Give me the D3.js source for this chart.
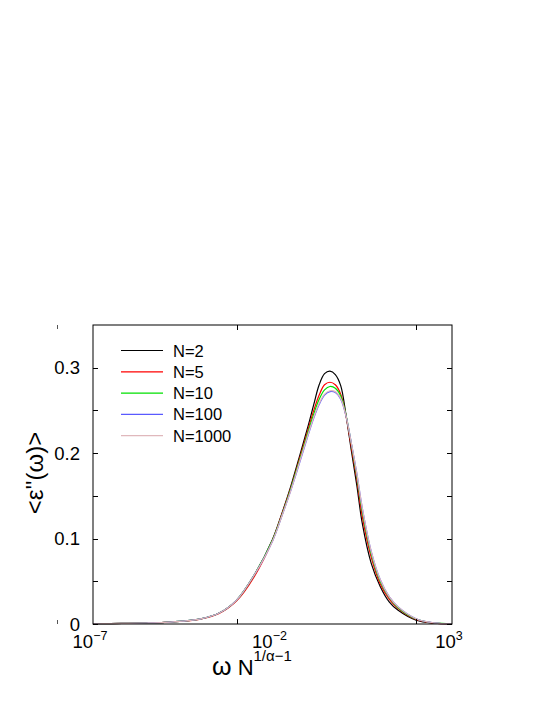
<!DOCTYPE html>
<html>
<head>
<meta charset="utf-8">
<script src="https://cdn.jsdelivr.net/npm/d3@7"></script>
<style>
html,body{margin:0;padding:0;background:#fff;}
svg{display:block;}
text{font-family:"Liberation Sans",Arial,Helvetica,sans-serif;fill:#000;}
</style>
</head>
<body>
<svg id="chart" width="545" height="705"></svg>
<script>
// ---- data ----
const logOmega = [-7,-6.5,-6,-5.5,-5,-4.5,-4,-3.5,-3,-2.5,-2,-1.75,-1.5,-1.25,-1,-0.85,-0.7,-0.55,-0.4,-0.25,-0.1,0.05,0.2,0.35,0.5,0.75,1,1.25,1.5,2,2.5,3];
const seriesNames = ["N=2","N=5","N=10","N=100","N=1000"];
const n2    = [0.0003,0.0005,0.0008,0.0012,0.0019,0.0033,0.0060,0.0125,0.028,0.058,0.099,0.128,0.160,0.196,0.233,0.257,0.280,0.293,0.296,0.292,0.279,0.244,0.202,0.162,0.118,0.071,0.044,0.026,0.016,0.0045,0.0009,0.0002];
const n5    = [0.0003,0.0005,0.0008,0.0012,0.0019,0.0032,0.0058,0.0120,0.027,0.056,0.098,0.127,0.158,0.193,0.229,0.250,0.268,0.280,0.283,0.280,0.269,0.243,0.206,0.169,0.126,0.078,0.047,0.029,0.018,0.0052,0.0011,0.0002];
const n10   = [0.0003,0.0005,0.0008,0.0012,0.0019,0.0033,0.0060,0.0125,0.028,0.058,0.098,0.126,0.157,0.191,0.226,0.246,0.263,0.274,0.278,0.276,0.267,0.244,0.210,0.173,0.132,0.082,0.050,0.031,0.019,0.0058,0.0013,0.0003];
const n100  = [0.0003,0.0005,0.0008,0.0012,0.0019,0.0033,0.0060,0.0125,0.028,0.058,0.097,0.125,0.155,0.188,0.222,0.241,0.257,0.268,0.272,0.271,0.263,0.243,0.211,0.176,0.136,0.085,0.052,0.032,0.020,0.0062,0.0014,0.0003];
const n1000 = [0.0003,0.0005,0.0008,0.0012,0.0019,0.0033,0.0060,0.0125,0.028,0.058,0.097,0.125,0.155,0.189,0.223,0.242,0.258,0.269,0.273,0.272,0.264,0.243,0.211,0.176,0.136,0.085,0.052,0.032,0.020,0.0062,0.0014,0.0003];
const seriesColors = ["#000000","#ff0000","#00e000","#5a5aff","#e0b8bc"];
const xTickLabelExps = [-7,-2,3];
const xTickMarkExps = [-3,2];
const yMajorTicks = [0,0.1,0.2,0.3];
const yMinorTicks = [0.05,0.15,0.25];

const allSeries = [n2,n5,n10,n100,n1000];

// ---- layout ----
const svg = d3.select("#chart");
const L = 93, R = 452, T = 325, B = 624;
const x = d3.scaleLog().domain([1e-7,1e3]).range([L,R]);
const y = d3.scaleLinear().domain([0,0.35]).range([B,T]);

// curves
const line = d3.line()
  .x(d => x(Math.pow(10,d[0])))
  .y(d => y(d[1]))
  .curve(d3.curveCatmullRom.alpha(0.5));

allSeries.forEach((s,i) => {
  svg.append("path")
    .datum(logOmega.map((lx,j)=>[lx,s[j]]))
    .attr("fill","none")
    .attr("stroke",seriesColors[i])
    .attr("stroke-width",1.2)
    .attr("d",line);
});

// frame
svg.append("rect").attr("x",L).attr("y",T).attr("width",R-L).attr("height",B-T)
  .attr("fill","none").attr("stroke","#000").attr("stroke-width",1);

const tl = 5;
const ticks = svg.append("g").attr("stroke","#000").attr("stroke-width",1);
yMajorTicks.concat(yMinorTicks).forEach(v => {
  const yy = Math.round(y(v))+0.5;
  ticks.append("line").attr("x1",L).attr("x2",L+tl).attr("y1",yy).attr("y2",yy);
  ticks.append("line").attr("x1",R).attr("x2",R-tl).attr("y1",yy).attr("y2",yy);
});
xTickMarkExps.forEach(e => {
  const xx = Math.round(x(Math.pow(10,e)))+0.5;
  ticks.append("line").attr("x1",xx).attr("x2",xx).attr("y1",B).attr("y2",B-tl);
  ticks.append("line").attr("x1",xx).attr("x2",xx).attr("y1",T).attr("y2",T+tl);
});
// small stray marks on the left
const stray = svg.append("g").attr("stroke","#555").attr("stroke-width",1);
stray.append("line").attr("x1",57.5).attr("x2",57.5).attr("y1",325).attr("y2",329);
stray.append("line").attr("x1",57.5).attr("x2",57.5).attr("y1",620).attr("y2",624);

// y tick labels
yMajorTicks.forEach(v => {
  svg.append("text").attr("x",80).attr("y",y(v)+6.5)
    .attr("text-anchor","end").attr("font-size",18.5)
    .text(v===0 ? "0" : d3.format(".1f")(v));
});

// x tick labels
xTickLabelExps.forEach(e => {
  const t = svg.append("text").attr("x",x(Math.pow(10,e))-3).attr("y",648)
    .attr("text-anchor","middle").attr("font-size",18.5);
  t.append("tspan").text("10");
  t.append("tspan").attr("dy",-8).attr("font-size",12.5).text(e<0 ? "\u2212"+(-e) : String(e));
});

// axis titles
const xt = svg.append("text").attr("x",212).attr("y",675).attr("font-size",22);
xt.append("tspan").attr("font-size",25).text("\u03c9");
xt.append("tspan").text(" N");
xt.append("tspan").attr("dy",-14).attr("font-size",15).text("1/\u03b1\u22121");

svg.append("text")
  .attr("transform","translate(43,473) rotate(-90)")
  .attr("text-anchor","middle").attr("font-size",24)
  .text("<\u03b5''(\u03c9)>");

// legend
const lg = svg.append("g");
seriesNames.forEach((nm,i) => {
  const yy = 350.5 + i*21.3;
  lg.append("line").attr("x1",121).attr("x2",163).attr("y1",yy).attr("y2",yy)
    .attr("stroke",seriesColors[i]).attr("stroke-width",1.2);
  lg.append("text").attr("x",173).attr("y",yy+6).attr("font-size",16.5).text(nm);
});
</script>
</body>
</html>
